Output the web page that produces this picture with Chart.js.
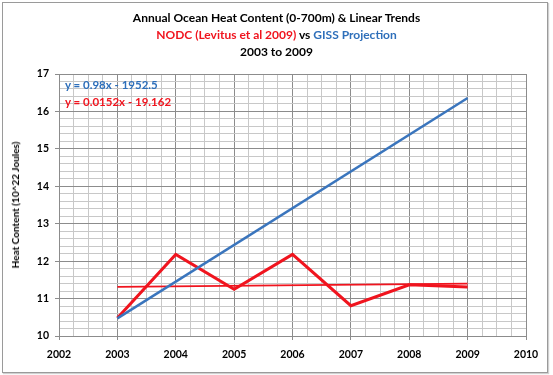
<!DOCTYPE html>
<html>
<head>
<meta charset="utf-8">
<script src="https://cdn.jsdelivr.net/npm/chart.js@4"></script>
<style>
  body { margin: 0; background: #fff; }
  #wrap { position: relative; width: 553px; height: 375px; font-family: Lato, 'Open Sans', sans-serif; }
  #frame { position: absolute; left: 2px; top: 2px; width: 544px; height: 369px; border: 1px solid #9a9a9a; box-shadow: 1px 1px 1px #d0d0d0; }
  .t { position: absolute; left: 0; width: 553px; text-align: center; font-weight: bold; font-size: 12px; line-height: 16px; color: #000; }
  .eq { position: absolute; left: 65px; font-weight: bold; font-size: 11.5px; line-height: 16px; }
  #ytitle { position: absolute; left: 15px; top: 205px; transform: translate(-50%, -50%) rotate(-90deg); white-space: nowrap; font-weight: bold; font-size: 10px; }
  canvas { position: absolute; left: 0; top: 0; }
</style>
</head>
<body>
<div id="wrap">
  <div id="frame"></div>
  <canvas id="c" width="553" height="375"></canvas>
  <div class="t" style="top:10px">Annual Ocean Heat Content (0-700m) &amp; Linear Trends</div>
  <div class="t" style="top:27px"><span style="color:#f0141e">NODC (Levitus et al 2009)</span> vs <span style="color:#2e6fba">GISS Projection</span></div>
  <div class="t" style="top:44px">2003 to 2009</div>
  <div class="eq" style="top:77px; color:#2e6fba">y = 0.98x - 1952.5</div>
  <div class="eq" style="top:94px; color:#f0141e">y = 0.0152x - 19.162</div>
  <div id="ytitle">Heat Content (10^22 Joules)</div>
</div>
<script>
const years = [2003, 2004, 2005, 2006, 2007, 2008, 2009];
const nodc = [10.48, 12.18, 11.25, 12.18, 10.81, 11.37, 11.31];
const trendYears = [2003, 2009];
const gissTrend = [10.47, 16.36];
const nodcTrend = [11.31, 11.40];

const RED = '#f0141e';
const BLUE = '#3a75bd';
const MAJOR = '#8c8c8c';
const MINOR = '#c8c8c8';

const pts = (xs, ys) => xs.map((x, i) => ({ x, y: ys[i] }));
const isMajor = (v) => Math.abs(v - Math.round(v)) < 1e-6;

function stepTicks(min, max, step) {
  return (scale) => {
    const n = Math.round((max - min) / step);
    scale.ticks = [];
    for (let i = 0; i <= n; i++) scale.ticks.push({ value: min + i * step });
  };
}

function gridOpts() {
  return {
    color: (ctx) => (ctx.tick && isMajor(ctx.tick.value) ? MAJOR : MINOR),
    tickColor: (ctx) => (ctx.tick && isMajor(ctx.tick.value) ? MAJOR : 'rgba(0,0,0,0)'),
    tickLength: 4,
    lineWidth: 1,
  };
}

const tickFont = { family: 'Lato', weight: 'bold', size: 10.5 };

new Chart(document.getElementById('c'), {
  type: 'line',
  data: {
    datasets: [
      { data: pts(trendYears, gissTrend), borderColor: BLUE, borderWidth: 2.5 },
      { data: pts(years, nodc), borderColor: RED, borderWidth: 3 },
      { data: pts(trendYears, nodcTrend), borderColor: RED, borderWidth: 1.8 },
    ],
  },
  options: {
    responsive: false,
    animation: false,
    layout: { padding: { left: 0, top: 74, right: 27, bottom: 0 } },
    elements: { point: { radius: 0 }, line: { tension: 0 } },
    plugins: { legend: { display: false }, tooltip: { enabled: false } },
    scales: {
      x: {
        type: 'linear',
        min: 2002,
        max: 2010,
        afterBuildTicks: stepTicks(2002, 2010, 0.25),
        afterFit: (s) => { s.height = 39; },
        grid: gridOpts(),
        border: { color: MAJOR },
        ticks: {
          autoSkip: false,
          maxRotation: 0,
          padding: 8,
          color: '#000',
          font: tickFont,
          callback: (v) => (isMajor(v) ? String(Math.round(v)) : ''),
        },
      },
      y: {
        min: 10,
        max: 17,
        afterBuildTicks: stepTicks(10, 17, 0.2),
        afterFit: (s) => { s.width = 59; },
        grid: gridOpts(),
        border: { color: MAJOR },
        ticks: {
          autoSkip: false,
          padding: 6,
          color: '#000',
          font: tickFont,
          callback: (v) => (isMajor(v) ? String(Math.round(v)) : ''),
        },
      },
    },
  },
});
</script>
</body>
</html>
